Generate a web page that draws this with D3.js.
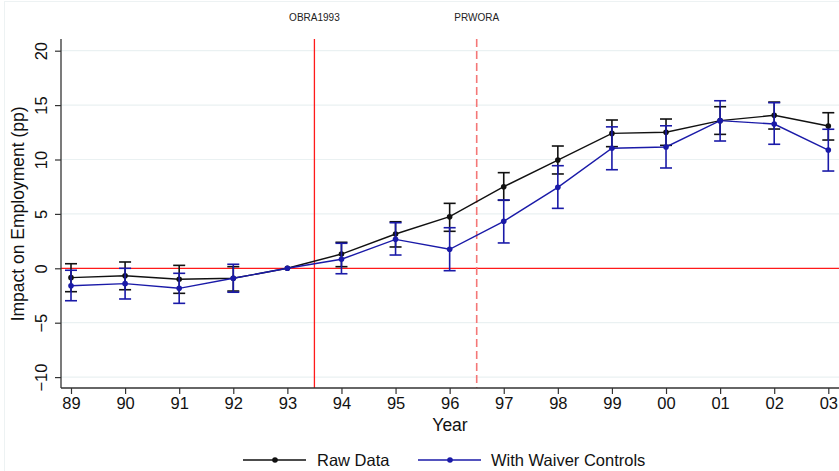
<!DOCTYPE html>
<html>
<head>
<meta charset="utf-8">
<script src="https://cdn.jsdelivr.net/npm/d3@7"></script>
<style>
  html, body { margin: 0; padding: 0; background: #ffffff; }
  svg { display: block; font-family: "Liberation Sans", Arial, sans-serif; }
</style>
</head>
<body>
<svg id="chart" width="839" height="471"></svg>
<script>
// ---- Data ----
const years = [89, 90, 91, 92, 93, 94, 95, 96, 97, 98, 99, 100, 101, 102, 103];
const yearLabels = ["89","90","91","92","93","94","95","96","97","98","99","00","01","02","03"];
const yTicks = [-10, -5, 0, 5, 10, 15, 20];

const rawEst  = [-0.86, -0.68, -1.00, -0.92, 0, 1.31, 3.15, 4.74, 7.50, 9.95, 12.40, 12.50, 13.57, 14.06, 13.08];
const rawLo   = [-2.15, -1.97, -2.30, -2.09, 0, 0.15, 1.96, 3.40, 6.25, 8.67, 11.18, 11.30, 12.31, 12.80, 11.79];
const rawHi   = [ 0.42,  0.58,  0.27,  0.15, 0, 2.39, 4.28, 5.97, 8.79, 11.24, 13.63, 13.72, 14.85, 15.28, 14.30];

const waivEst = [-1.60, -1.41, -1.84, -0.92, 0, 0.83, 2.66, 1.75, 4.32, 7.44, 11.03, 11.15, 13.57, 13.26, 10.87];
const waivLo  = [-2.98, -2.82, -3.22, -2.20, 0, -0.50, 1.22, -0.22, 2.33, 5.51, 9.06, 9.22, 11.70, 11.40, 8.94];
const waivHi  = [-0.18,  0.00, -0.46,  0.37, 0, 2.30, 4.19, 3.73, 6.28, 9.43, 13.00, 13.10, 15.40, 15.22, 12.78];

const events = [
  { x: 93.5, label: "OBRA1993", dashed: false },
  { x: 96.5, label: "PRWORA", dashed: true }
];

const seriesList = [
  { name: "Raw Data", color: "#111111", est: rawEst, lo: rawLo, hi: rawHi },
  { name: "With Waiver Controls", color: "#1a1aa8", est: waivEst, lo: waivLo, hi: waivHi }
];

// ---- Layout ----
const svg = d3.select("#chart");
const W = 839, H = 471;
const plotLeft = 61, plotRight = 839, plotTop = 39, plotBottom = 388;

const x = d3.scaleLinear().domain([89, 103]).range([71, 828.3]);
const y = d3.scaleLinear().domain([-10, 20]).range([377.1, 50.7]);

// faint outer frame
svg.append("rect").attr("x", 0).attr("y", 0).attr("width", W).attr("height", H).attr("fill", "#ffffff");
svg.append("rect").attr("x", 4.5).attr("y", 1.5).attr("width", W - 4).attr("height", H)
  .attr("fill", "#ffffff").attr("stroke", "#edf2f3").attr("stroke-width", 1);

// gridlines
svg.append("g").selectAll("line").data(yTicks.filter(d => d !== 0)).join("line")
  .attr("x1", plotLeft).attr("x2", plotRight)
  .attr("y1", d => y(d)).attr("y2", d => y(d))
  .attr("stroke", "#eaf1f2").attr("stroke-width", 1.2);

// zero line
svg.append("line")
  .attr("x1", plotLeft).attr("x2", plotRight)
  .attr("y1", y(0)).attr("y2", y(0))
  .attr("stroke", "#ff1a1a").attr("stroke-width", 1.3);

// event lines
events.forEach(e => {
  svg.append("line")
    .attr("x1", x(e.x)).attr("x2", x(e.x))
    .attr("y1", plotTop).attr("y2", plotBottom)
    .attr("stroke", e.dashed ? "#f47777" : "#ff1a1a")
    .attr("stroke-width", e.dashed ? 1.6 : 1.3)
    .attr("stroke-dasharray", e.dashed ? "8,4" : null);
  svg.append("text")
    .attr("x", x(e.x)).attr("y", 21)
    .attr("text-anchor", "middle")
    .attr("font-size", 10)
    .attr("fill", "#222")
    .text(e.label);
});

// axes
const xAxis = d3.axisBottom(x).tickValues(years).tickFormat((d, i) => yearLabels[i]).tickSize(6).tickPadding(3).tickSizeOuter(0);
const gx = svg.append("g").attr("transform", `translate(0,${plotBottom})`).call(xAxis);
gx.select(".domain").remove();
gx.selectAll(".tick line").attr("stroke", "#333").attr("stroke-width", 1.2);
gx.selectAll(".tick text").attr("font-size", 16.5).attr("fill", "#111").attr("font-family", "Liberation Sans, Arial, sans-serif");
svg.append("line").attr("x1", plotLeft).attr("x2", plotRight).attr("y1", plotBottom).attr("y2", plotBottom)
  .attr("stroke", "#333").attr("stroke-width", 1.3);

const yAxis = d3.axisLeft(y).tickValues(yTicks).tickSize(6).tickPadding(4).tickSizeOuter(0);
const gy = svg.append("g").attr("transform", `translate(${plotLeft},0)`).call(yAxis);
gy.select(".domain").remove();
gy.selectAll(".tick line").attr("stroke", "#333").attr("stroke-width", 1.2);
gy.selectAll(".tick text")
  .attr("font-size", 16.5).attr("fill", "#111")
  .attr("font-family", "Liberation Sans, Arial, sans-serif")
  .attr("text-anchor", "middle")
  .attr("dy", null)
  .attr("x", null)
  .attr("transform", "translate(-20,0) rotate(-90)")
  .attr("y", 0)
  .attr("dominant-baseline", "central");
svg.append("line").attr("x1", plotLeft).attr("x2", plotLeft).attr("y1", plotTop).attr("y2", plotBottom)
  .attr("stroke", "#333").attr("stroke-width", 1.3);

// axis titles
svg.append("text").attr("x", 450).attr("y", 431).attr("text-anchor", "middle")
  .attr("font-size", 17.5).attr("fill", "#111").text("Year");
svg.append("text").attr("transform", `translate(24,${y(5)}) rotate(-90)`)
  .attr("text-anchor", "middle").attr("font-size", 17.5).attr("fill", "#111")
  .text("Impact on Employment (pp)");

// series
const lineGen = d3.line().x(d => x(d.year)).y(d => y(d.v));
const capW = 6;
seriesList.forEach(s => {
  const g = svg.append("g");
  const pts = years.map((yr, i) => ({ year: yr, v: s.est[i], lo: s.lo[i], hi: s.hi[i] }));
  // error bars
  pts.forEach(p => {
    if (p.lo === p.hi) return;
    g.append("line").attr("x1", x(p.year)).attr("x2", x(p.year)).attr("y1", y(p.lo)).attr("y2", y(p.hi))
      .attr("stroke", s.color).attr("stroke-width", 1.6);
    [p.lo, p.hi].forEach(v => {
      g.append("line").attr("x1", x(p.year) - capW).attr("x2", x(p.year) + capW)
        .attr("y1", y(v)).attr("y2", y(v)).attr("stroke", s.color).attr("stroke-width", 1.6);
    });
  });
  g.append("path").datum(pts).attr("d", lineGen).attr("fill", "none")
    .attr("stroke", s.color).attr("stroke-width", 1.4);
  g.selectAll("circle").data(pts).join("circle")
    .attr("cx", d => x(d.year)).attr("cy", d => y(d.v)).attr("r", 2.8).attr("fill", s.color);
});

// legend
const legendItems = [
  { s: seriesList[0], x0: 243, tx: 317 },
  { s: seriesList[1], x0: 418, tx: 491 }
];
const ly = 460;
legendItems.forEach(it => {
  svg.append("line").attr("x1", it.x0).attr("x2", it.x0 + 63).attr("y1", ly).attr("y2", ly)
    .attr("stroke", it.s.color).attr("stroke-width", 1.4);
  svg.append("circle").attr("cx", it.x0 + 32).attr("cy", ly).attr("r", 2.8).attr("fill", it.s.color);
  svg.append("text").attr("x", it.tx).attr("y", ly).attr("dominant-baseline", "central")
    .attr("font-size", 16.5).attr("fill", "#111").text(it.s.name);
});
</script>
</body>
</html>
